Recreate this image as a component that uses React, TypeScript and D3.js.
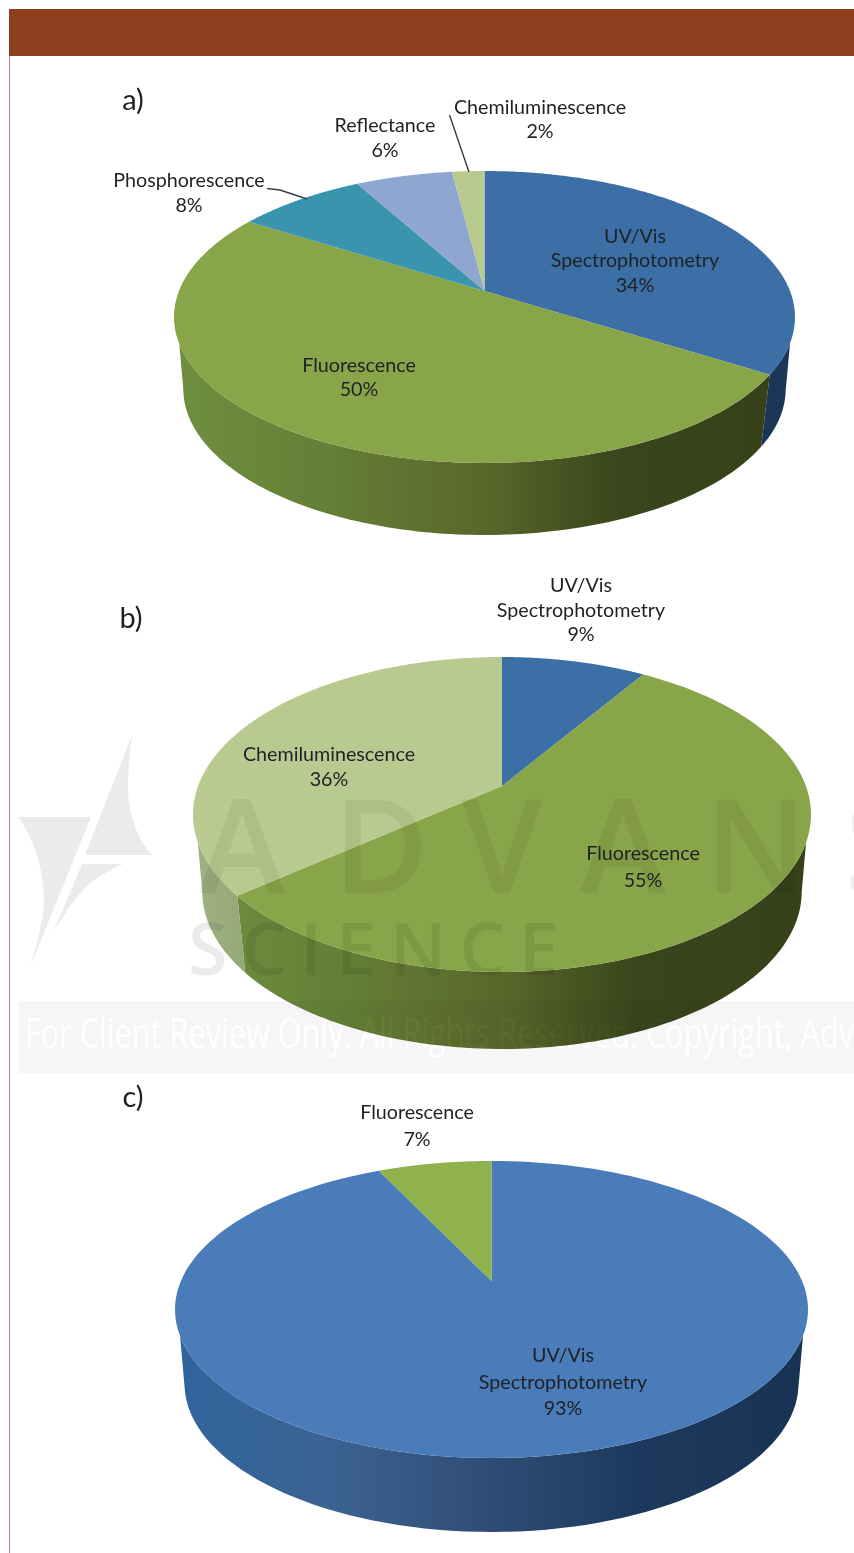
import React from "react";
import * as d3 from "d3";

// Panel a
const categoriesA = ["UV/Vis Spectrophotometry", "Fluorescence", "Phosphorescence", "Reflectance", "Chemiluminescence"];
const valuesA = [34, 50, 8, 6, 2];
// Panel b
const categoriesB = ["UV/Vis Spectrophotometry", "Fluorescence", "Chemiluminescence"];
const valuesB = [9, 55, 36];
// Panel c
const categoriesC = ["UV/Vis Spectrophotometry", "Fluorescence"];
const valuesC = [93, 7];

const FONT = "Lato, 'Open Sans', sans-serif";
const TEXT_COLOR = "#1f2024";

type Stop = [number, string];
type Label = { lines: string[]; x: number; y: number[] };
type Panel = {
  id: string;
  tag: string;
  tagX: number;
  tagY: number;
  values: number[];
  cx: number;
  cy: number;
  rx: number;
  ry: number;
  apexY: number;
  depth: number;
  topFill: string[];
  wallStops: Stop[][];
  labels: Label[];
  leaders: [number, number][][];
};

const greenWall: Stop[] = [[0, "#6f8f40"], [0.25, "#647f36"], [0.5, "#5a672b"], [0.72, "#39451b"], [1, "#36411a"]];
const blueWallDark: Stop[] = [[0, "#1c3658"], [1, "#1c3658"]];
const paleWall: Stop[] = [[0, "#a0b383"], [0.08, "#95a878"]];
const blueWall: Stop[] = [[0, "#2f659d"], [0.25, "#3c6292"], [0.5, "#2f4c75"], [0.72, "#1d3a5e"], [1, "#183252"]];

const panels: Panel[] = [
  {
    id: "a", tag: "a)", tagX: 133, tagY: 110, values: valuesA,
    cx: 484.5, cy: 317, rx: 310.5, ry: 146, apexY: 291, depth: 72,
    topFill: ["#3c6fa6", "#88a549", "#3b94ae", "#8fa6d1", "#b8ca8d"],
    wallStops: [blueWallDark, greenWall, greenWall, greenWall, greenWall],
    labels: [
      { lines: ["UV/Vis", "Spectrophotometry", "34%"], x: 635, y: [236, 260, 285] },
      { lines: ["Fluorescence", "50%"], x: 359, y: [365, 389] },
      { lines: ["Phosphorescence", "8%"], x: 189, y: [180, 205] },
      { lines: ["Reflectance", "6%"], x: 385, y: [125, 150] },
      { lines: ["Chemiluminescence", "2%"], x: 540, y: [107, 131] },
    ],
    leaders: [
      [[267, 188.5], [280, 190], [307, 199]],
      [[449.5, 115], [469, 172]],
    ],
  },
  {
    id: "b", tag: "b)", tagX: 131, tagY: 628, values: valuesB,
    cx: 502, cy: 814.5, rx: 309, ry: 157.5, apexY: 786, depth: 77,
    topFill: ["#3c6fa6", "#88a549", "#b8ca8f"],
    wallStops: [blueWallDark, greenWall, paleWall],
    labels: [
      { lines: ["UV/Vis", "Spectrophotometry", "9%"], x: 581, y: [585, 610, 634] },
      { lines: ["Fluorescence", "55%"], x: 643, y: [853, 880] },
      { lines: ["Chemiluminescence", "36%"], x: 329, y: [754, 779] },
    ],
    leaders: [],
  },
  {
    id: "c", tag: "c)", tagX: 133, tagY: 1107, values: valuesC,
    cx: 491.5, cy: 1309.5, rx: 316.5, ry: 148.5, apexY: 1281, depth: 74,
    topFill: ["#4a7cba", "#8fb24c"],
    wallStops: [blueWall, greenWall],
    labels: [
      { lines: ["UV/Vis", "Spectrophotometry", "93%"], x: 563, y: [1355, 1382, 1408] },
      { lines: ["Fluorescence", "7%"], x: 417, y: [1112, 1139] },
    ],
    leaders: [],
  },
];

// The base rim is seen slightly smaller than the top rim, and the wall only
// emerges from under the top surface a little below its widest point.
const bottomNarrowing = 0.97;
const wallStartV = 0.17;
const lineGen = d3.line<[number, number]>();

// Perspective projection of the unit disc: the pie centre lands on the apex,
// the rim stays on the ellipse, as a tilted 3-D pie is seen.
function rimPoint(p: Panel, angle: number): { u: number; v: number } {
  const a = (p.apexY - p.cy) / p.ry;
  const x = Math.sin(angle);
  const y = -Math.cos(angle);
  const d = 1 + a * y;
  return { u: (x * Math.sqrt(1 - a * a)) / d, v: (y + a) / d };
}

function PiePanel({ p }: { p: Panel }) {
  const arcs = d3.pie<number>().sort(null).value((d) => d)(p.values);
  const sx = d3.scaleLinear().domain([-1, 1]).range([p.cx - p.rx, p.cx + p.rx]);
  const sy = d3.scaleLinear().domain([-1, 1]).range([p.cy - p.ry, p.cy + p.ry]);
  const sxBottom = d3.scaleLinear().domain([-1, 1]).range([
    p.cx - p.rx * bottomNarrowing,
    p.cx + p.rx * bottomNarrowing,
  ]);

  const samples = (a0: number, a1: number) =>
    d3.range(0, 161).map((i) => rimPoint(p, a0 + ((a1 - a0) * i) / 160));

  const tops = arcs.map((arc) => {
    const rim = samples(arc.startAngle, arc.endAngle).map(
      (q) => [sx(q.u), sy(q.v)] as [number, number]
    );
    return lineGen([[p.cx, p.apexY], ...rim]) + "Z";
  });

  const walls = arcs.map((arc) => {
    const rim = samples(arc.startAngle, arc.endAngle);
    const upper = rim
      .filter((q) => q.v >= wallStartV)
      .map((q) => [sx(q.u), sy(q.v)] as [number, number]);
    const lower = rim
      .filter((q) => q.v >= 0)
      .reverse()
      .map((q) => [sxBottom(q.u), sy(q.v) + p.depth] as [number, number]);
    if (upper.length < 2) return null;
    return lineGen([...upper, ...lower]) + "Z";
  });

  return (
    <g>
      <defs>
        {arcs.map((_, i) => (
          <linearGradient
            key={i}
            id={`wall-${p.id}-${i}`}
            gradientUnits="userSpaceOnUse"
            x1={p.cx - p.rx}
            x2={p.cx + p.rx}
            y1={0}
            y2={0}
          >
            {p.wallStops[i].map(([o, c]) => (
              <stop key={o} offset={o} stopColor={c} />
            ))}
          </linearGradient>
        ))}
      </defs>
      {walls.map((d, i) => d && <path key={i} d={d} fill={`url(#wall-${p.id}-${i})`} />)}
      {tops.map((d, i) => (
        <path key={i} d={d} fill={p.topFill[i]} />
      ))}
    </g>
  );
}

function PanelText({ p }: { p: Panel }) {
  return (
    <g fontFamily={FONT} fill={TEXT_COLOR}>
      <text x={p.tagX} y={p.tagY} fontSize={29} textAnchor="middle">{p.tag}</text>
      {p.leaders.map((pts, i) => (
        <path key={i} d={lineGen(pts as [number, number][]) ?? ""} fill="none" stroke="#3a3d40" strokeWidth={1.4} />
      ))}
      {p.labels.map((l) =>
        l.lines.map((t, j) => (
          <text key={l.lines[0] + j} x={l.x} y={l.y[j] + 6.5} fontSize={19.7} textAnchor="middle">{t}</text>
        ))
      )}
    </g>
  );
}

const wordmarkLetters: [string, number][] = [["A", 242], ["D", 381], ["V", 502], ["A", 623], ["N", 756], ["S", 880]];

// Publisher's sail logo, wordmark and review banner laid over the page.
function Watermark() {
  return (
    <g>
      <g fill="#000" fillOpacity={0.08}>
        <path d="M132,735 L85,855 L153,855 C140,845 128,815 128,787 C128,770 130,750 132,735Z" />
        <path d="M18,817 L91,817 L31,965 C42,925 46,905 43,887 C42,865 32,835 18,817Z" />
        <path d="M82,864 L123,864 C105,872 90,882 83,890 C72,902 62,918 53,933Z" />
      </g>
      <g fontFamily="'Open Sans', sans-serif" fontSize={130} fontWeight={600} fill="#000" fillOpacity={0.06} textAnchor="middle">
        {wordmarkLetters.map(([c, x], i) => (
          <text key={i} x={x} y={893}>{c}</text>
        ))}
      </g>
      <text x={188} y={975} fontFamily="'Open Sans', sans-serif" fontSize={72} fontWeight={600} fill="#000" fillOpacity={0.08} textLength={371} lengthAdjust="spacing">SCIENCE</text>
      <rect x={18} y={1001} width={836} height={72} fill="#f6f6f6" style={{ mixBlendMode: "multiply" }} />
      <text x={25} y={1048} fontFamily="'Liberation Sans Narrow', 'Open Sans', sans-serif" fontSize={42} fill="#111" textLength={829} lengthAdjust="spacingAndGlyphs" style={{ mixBlendMode: "color-dodge" }}>For Client Review Only. All Rights Reserved. Copyright, Adv</text>
    </g>
  );
}

export default function App() {
  return (
    <svg
      width={854}
      height={1553}
      viewBox="0 0 854 1553"
      style={{ position: "absolute", left: 0, top: 0, display: "block", background: "#fff", isolation: "isolate" }}
    >
      <rect x={0} y={0} width={854} height={1553} fill="#fff" />
      <rect x={9} y={9} width={845} height={47} fill="#8c4020" />
      <line x1={9.5} x2={9.5} y1={56} y2={1553} stroke="#b5806e" strokeWidth={1} />
      {panels.map((p) => (
        <PiePanel key={p.id} p={p} />
      ))}
      <Watermark />
      {panels.map((p) => (
        <PanelText key={p.id} p={p} />
      ))}
    </svg>
  );
}
